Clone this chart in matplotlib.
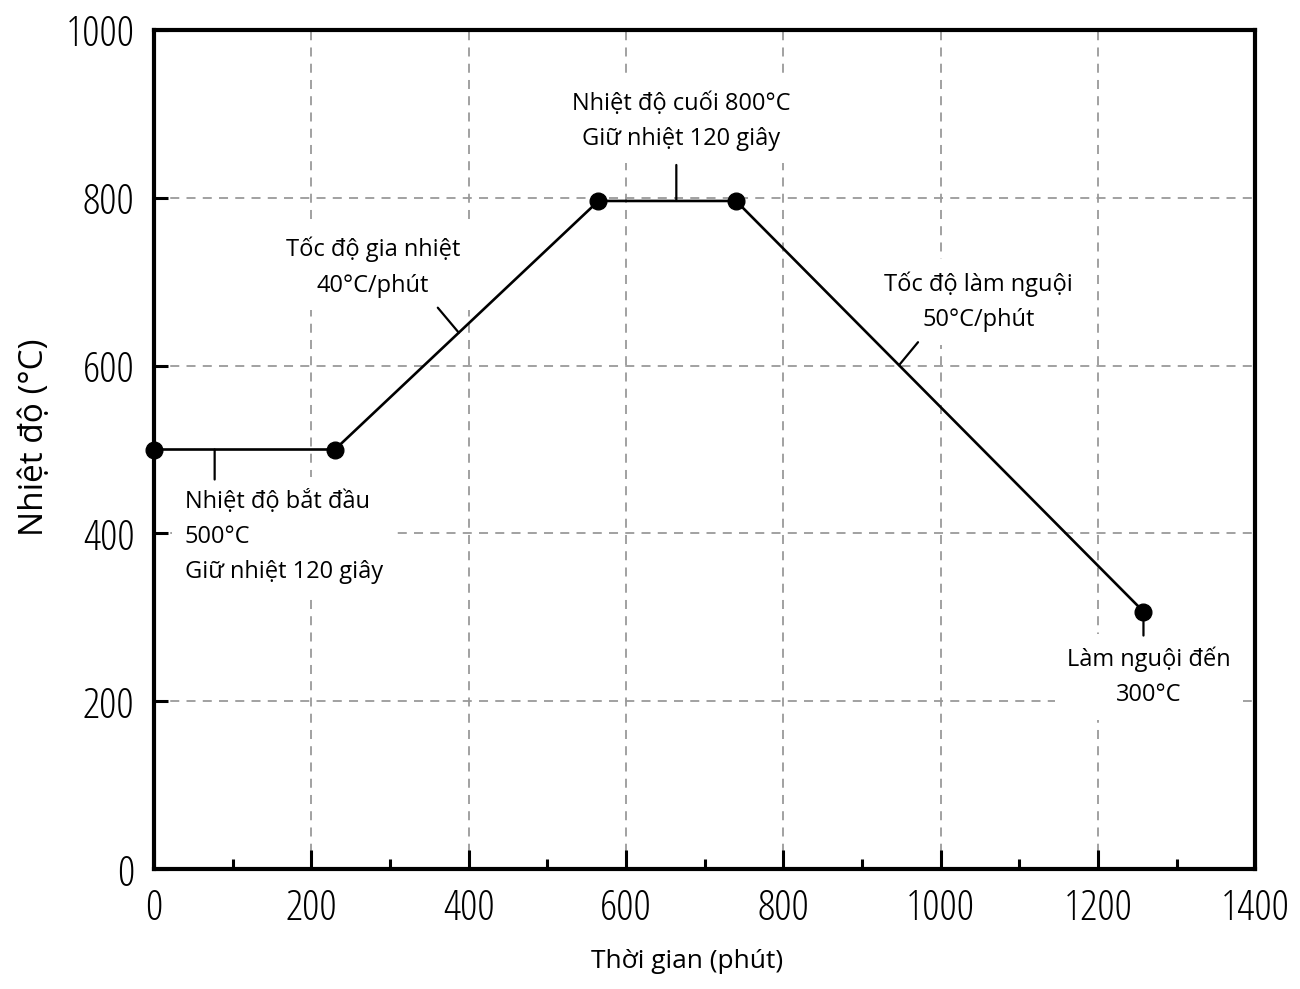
import numpy as np
import matplotlib.pyplot as plt
from matplotlib.ticker import MultipleLocator

# heating profile
time_min = [0, 230, 565, 740, 1258]
temp_c = [500, 500, 796, 796, 307]

x_ticks = [0, 200, 400, 600, 800, 1000, 1200, 1400]
y_ticks = [0, 200, 400, 600, 800, 1000]

label_start = "Nhiệt độ bắt đầu\n500°C\nGiữ nhiệt 120 giây"
label_heat = "Tốc độ gia nhiệt\n40°C/phút"
label_hold = "Nhiệt độ cuối 800°C\nGiữ nhiệt 120 giây"
label_cool = "Tốc độ làm nguội\n50°C/phút"
label_end = "Làm nguội đến\n300°C"

text_font = ['Open Sans', 'DejaVu Sans']
tick_font = ['Open Sans Condensed Light', 'DejaVu Sans Condensed', 'Open Sans', 'DejaVu Sans']

fig = plt.figure(figsize=(13, 9.89), dpi=100)
ax = fig.add_axes([0.1185, 0.121, 0.847, 0.849])

ax.set_xlim(0, 1400)
ax.set_ylim(0, 1000)

# grid only at inner major ticks
for gx in x_ticks[1:-1]:
    ax.axvline(gx, color='#9a9a9a', lw=1.3, ls=(0, (5, 4)), zorder=0)
for gy in y_ticks[1:-1]:
    ax.axhline(gy, color='#9a9a9a', lw=1.3, ls=(0, (5, 4)), zorder=0)

ax.plot(time_min, temp_c, color='black', lw=1.9, zorder=3, clip_on=False)
ax.plot(time_min, temp_c, 'o', color='black', ms=12, zorder=4, clip_on=False)


def seg_point(i, frac):
    x = time_min[i] + frac * (time_min[i + 1] - time_min[i])
    y = temp_c[i] + frac * (temp_c[i + 1] - temp_c[i])
    return x, y


# little leader strokes from the line towards each label
leaders = [
    (seg_point(0, 0.335), (0, -30)),
    (seg_point(1, 0.47), (-21, 25)),
    (seg_point(2, 0.566), (0, 36)),
    (seg_point(3, 0.40), (19, 23)),
    ((time_min[4], temp_c[4]), (0, -24)),
]
for xy, off in leaders:
    ax.annotate('', xy=xy, xytext=off, textcoords='offset pixels',
                arrowprops=dict(arrowstyle='-', color='black', lw=1.6,
                                shrinkA=0, shrinkB=0), zorder=2)

box = dict(facecolor='white', edgecolor='none', pad=9)
fs = 17
ls = 1.62
ax.text(39, 452, label_start, ha='left', va='top', fontsize=fs,
        family=text_font, linespacing=ls, bbox=box, zorder=1)
ax.text(278, 717, label_heat, ha='center', va='center', fontsize=fs,
        family=text_font, linespacing=ls, bbox=box, zorder=1)
ax.text(670, 891, label_hold, ha='center', va='center', fontsize=fs,
        family=text_font, linespacing=ls, bbox=box, zorder=1)
ax.text(1048, 676, label_cool, ha='center', va='center', fontsize=fs,
        family=text_font, linespacing=ls, bbox=box, zorder=1)
ax.text(1265, 229, label_end, ha='center', va='center', fontsize=fs,
        family=text_font, linespacing=ls, bbox=box, zorder=1)

ax.set_xticks(x_ticks)
ax.set_yticks(y_ticks)
ax.xaxis.set_minor_locator(MultipleLocator(100))
ax.tick_params(axis='x', which='major', direction='in', length=14, width=2.2,
               pad=13, labelsize=31)
ax.tick_params(axis='x', which='minor', direction='in', length=7, width=2.2)
ax.tick_params(axis='y', which='major', direction='in', length=10, width=2.2,
               pad=14, labelsize=31)
for lab in ax.get_xticklabels() + ax.get_yticklabels():
    lab.set_family(tick_font)
    lab.set_fontweight('light')
    lab.set_fontstretch('condensed')

for sp in ax.spines.values():
    sp.set_linewidth(3)

ax.set_xlabel("Thời gian (phút)", fontsize=19, family=text_font)
ax.xaxis.set_label_coords(0.484, -0.095)
ax.set_ylabel("Nhiệt độ (°C)", fontsize=24, family=text_font)
ax.yaxis.set_label_coords(-0.094, 0.514)

fig.savefig('out.png', dpi=100, facecolor='white')
